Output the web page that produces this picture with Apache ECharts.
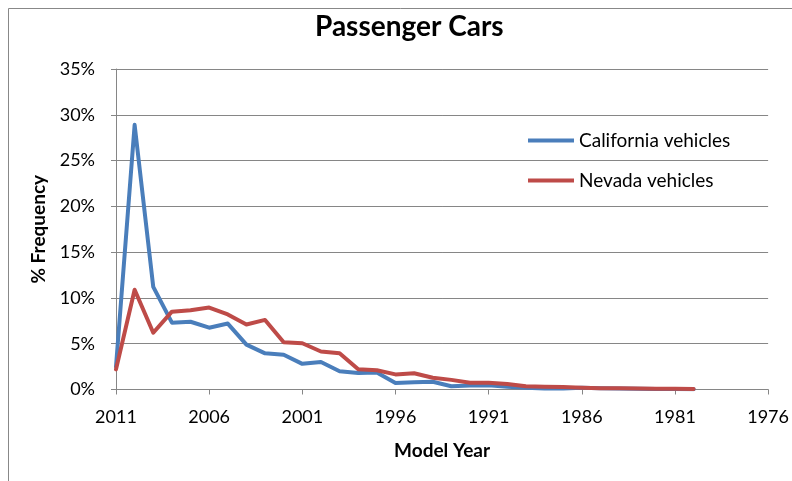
<!DOCTYPE html>
<html>
<head>
<meta charset="utf-8">
<script src="https://cdn.jsdelivr.net/npm/echarts@6/dist/echarts.min.js"></script>
<style>
  html, body { margin: 0; padding: 0; background: #fff; }
  #chart { width: 792px; height: 481px; }
</style>
</head>
<body>
<div id="chart"></div>
<script>
// model years, newest first (x axis runs 2011 -> 1976)
var years = [2011, 2010, 2009, 2008, 2007, 2006, 2005, 2004, 2003, 2002, 2001, 2000,
  1999, 1998, 1997, 1996, 1995, 1994, 1993, 1992, 1991, 1990, 1989, 1988, 1987,
  1986, 1985, 1984, 1983, 1982, 1981, 1980]
// % frequency
var california = [2.5, 28.9, 11.2, 7.3, 7.4, 6.75, 7.2, 4.9, 3.95, 3.8, 2.8, 3.0,
  2.0, 1.8, 1.85, 0.7, 0.78, 0.85, 0.35, 0.45, 0.45, 0.3, 0.2, 0.12, 0.1,
  0.2, 0.15, 0.1, 0.08, 0.06, 0.05, 0.04]
var nevada = [2.2, 10.9, 6.2, 8.5, 8.65, 8.95, 8.2, 7.1, 7.6, 5.15, 5.05, 4.15,
  3.95, 2.2, 2.1, 1.65, 1.78, 1.28, 1.05, 0.74, 0.74, 0.6, 0.36, 0.3, 0.27,
  0.2, 0.15, 0.15, 0.1, 0.08, 0.07, 0.06]
var seriesNames = ['California vehicles', 'Nevada vehicles']

var font = 'Lato, "Open Sans", sans-serif'
var axisGray = '#868686'

function pairs (vals) {
  return years.map(function (y, i) { return [y, vals[i]] })
}

var myChart = echarts.init(document.getElementById('chart'))
var option = {
  backgroundColor: '#fff',
  animation: false,
  textStyle: { fontFamily: font },
  graphic: [{
    type: 'rect',
    shape: { x: 8.5, y: 8.5, width: 800, height: 500 },
    style: { fill: 'none', stroke: '#888', lineWidth: 1 }
  }],
  title: {
    text: 'Passenger Cars',
    left: 315,
    top: 13,
    padding: 0,
    textStyle: { fontFamily: font, fontSize: 28, fontWeight: 'bold', color: '#000' }
  },
  legend: {
    data: seriesNames,
    orient: 'vertical',
    left: 528,
    top: 131,
    padding: 0,
    itemWidth: 46,
    itemHeight: 4,
    itemGap: 21,
    icon: 'rect',
    textStyle: { fontFamily: font, fontSize: 19, color: '#000' }
  },
  grid: {
    left: 116,
    right: 23,
    top: 69,
    bottom: 91.5,
    containLabel: false
  },
  xAxis: {
    type: 'value',
    inverse: true,
    min: 1976,
    max: 2011,
    interval: 5,
    name: 'Model Year',
    nameLocation: 'middle',
    nameGap: 52,
    nameTextStyle: { fontFamily: font, fontSize: 19, fontWeight: 'bold', color: '#000' },
    axisLine: { lineStyle: { color: axisGray } },
    axisTick: { show: true, length: 5, lineStyle: { color: axisGray } },
    axisLabel: {
      margin: 19, fontSize: 18, color: '#000', fontFamily: font,
      formatter: function (v) { return String(v) }
    },
    splitLine: { show: false }
  },
  yAxis: {
    type: 'value',
    min: 0,
    max: 35,
    interval: 5,
    name: '% Frequency',
    nameLocation: 'middle',
    nameRotate: 90,
    nameGap: 67,
    nameTextStyle: { fontFamily: font, fontSize: 19, fontWeight: 'bold', color: '#000' },
    axisLine: { show: true, lineStyle: { color: axisGray } },
    axisTick: { show: true, length: 5, lineStyle: { color: axisGray } },
    axisLabel: { margin: 21, fontSize: 18, color: '#000', fontFamily: font, formatter: '{value}%' },
    splitLine: { show: true, lineStyle: { color: axisGray, width: 1 } }
  },
  series: [{
    name: seriesNames[0],
    type: 'line',
    data: pairs(california),
    showSymbol: false,
    symbol: 'none',
    lineStyle: { color: '#4a7ebb', width: 4, join: 'round', cap: 'round' },
    itemStyle: { color: '#4a7ebb' },
    z: 2
  }, {
    name: seriesNames[1],
    type: 'line',
    data: pairs(nevada),
    showSymbol: false,
    symbol: 'none',
    lineStyle: { color: '#be4b48', width: 4, join: 'round', cap: 'round' },
    itemStyle: { color: '#be4b48' },
    z: 3
  }]
}
myChart.setOption(option)
</script>
</body>
</html>
